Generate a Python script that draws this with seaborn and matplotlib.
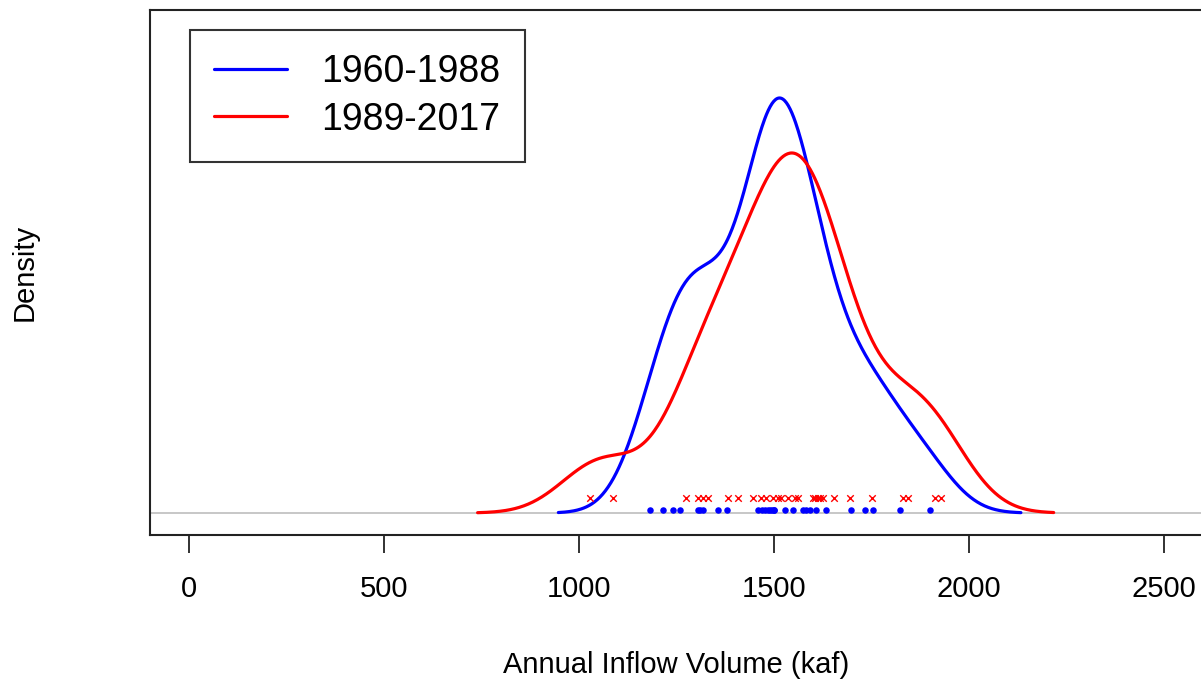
import numpy as np
import pandas as pd
import matplotlib
matplotlib.use("Agg")
import matplotlib.pyplot as plt
import seaborn as sns

# Annual inflow volumes (kaf)
early_years = [1181, 1215, 1241, 1258, 1304, 1310, 1317, 1356, 1379, 1459,
               1470, 1476, 1485, 1490, 1495, 1500, 1501, 1527, 1548, 1574,
               1582, 1591, 1608, 1634, 1698, 1733, 1753, 1822, 1899]
late_years = [1028, 1087, 1275, 1305, 1317, 1330, 1381, 1407, 1445, 1466,
              1479, 1497, 1510, 1519, 1535, 1553, 1561, 1600, 1606, 1612,
              1618, 1625, 1655, 1694, 1750, 1831, 1843, 1912, 1929]
period_labels = ["1960-1988", "1989-2017"]
period_colors = ["#0000ff", "#ff0000"]
# kernel bandwidths (kaf)
period_bw = [78, 96]
x_ticks = [0, 500, 1000, 1500, 2000, 2500]

sns.set_style("white")
plt.rcParams["font.family"] = ["Liberation Sans", "DejaVu Sans"]
plt.rcParams["text.color"] = "black"
plt.rcParams["axes.labelcolor"] = "black"
plt.rcParams["xtick.color"] = "black"

fig = plt.figure(figsize=(12.01, 6.8), dpi=100)
ax = fig.add_axes([0.1249, 0.2132, 0.8768, 0.7721])

for vals, lab, col, bw in zip([early_years, late_years], period_labels, period_colors, period_bw):
    # gaussian_kde wants a factor of the sample sd
    factor = bw / np.std(vals, ddof=1)
    sns.kdeplot(x=vals, bw_method=factor, cut=3, gridsize=512,
                color=col, lw=2.3, label=lab, ax=ax, zorder=3)

peak = ax.lines[0].get_ydata().max()
unit = peak / 415.0
ax.set_ylim(-22 * unit, 503 * unit)
ax.set_xlim(-100, 2600)
ax.axhline(0, color="#bebebe", lw=1.2, zorder=1)

# rug marks
sns.scatterplot(x=early_years, y=[3 * unit] * len(early_years), color=period_colors[0],
                marker="o", s=22, linewidth=0, ax=ax, zorder=4, legend=False)
sns.scatterplot(x=late_years, y=[15 * unit] * len(late_years), color=period_colors[1],
                marker="x", s=22, linewidth=1.0, ax=ax, zorder=4, legend=False)

ax.set_xticks(x_ticks)
ax.set_xticklabels([str(t) for t in x_ticks], fontsize=21)
ax.set_yticks([])
ax.tick_params(axis="x", direction="out", length=13, width=1.3, color="#222222",
               pad=16, bottom=True)
for s in ax.spines.values():
    s.set_linewidth(1.5)
    s.set_color("#222222")

ax.set_xlabel("Annual Inflow Volume (kaf)", fontsize=21, labelpad=34)
ax.set_ylabel("Density", fontsize=21, labelpad=80)

leg = ax.legend(loc="upper left", bbox_to_anchor=(0.0379, 0.962), borderaxespad=0,
                fontsize=27, frameon=True, fancybox=False, edgecolor="black",
                handlelength=1.95, handletextpad=0.9, borderpad=0.65, labelspacing=0.3)
leg.get_frame().set_linewidth(1.5)
for h in leg.get_lines():
    h.set_linewidth(2.3)

fig.savefig("out.png", dpi=100)
